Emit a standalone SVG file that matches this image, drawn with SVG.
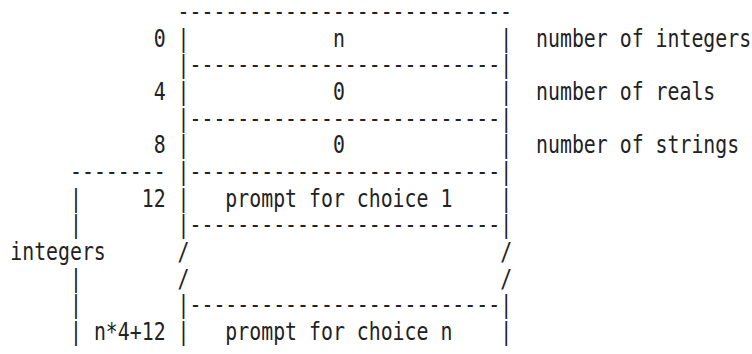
<svg xmlns="http://www.w3.org/2000/svg" width="752" height="354" viewBox="0 0 752 354">
<style>
  text { font-family: "DejaVu Sans Mono", "Liberation Mono", monospace; font-size: 24px; fill: #222; white-space: pre; }
</style>
<rect x="0" y="0" width="752" height="354" fill="#ffffff"/>
<g transform="translate(-1.7,0) scale(0.8271,1)">
  <g id="frame">
    <text x="216.74" y="20">----------------------------</text>
    <text x="216.74" y="46.67">|</text><text x="606.86" y="46.67">|</text>
    <text x="216.74" y="73.33">|</text><text x="231.18" y="73.33">--------------------------</text><text x="606.86" y="73.33">|</text>
    <text x="216.74" y="100">|</text><text x="606.86" y="100">|</text>
    <text x="216.74" y="126.67">|</text><text x="231.18" y="126.67">--------------------------</text><text x="606.86" y="126.67">|</text>
    <text x="216.74" y="153.33">|</text><text x="606.86" y="153.33">|</text>
    <text x="216.74" y="180">|</text><text x="231.18" y="180">--------------------------</text><text x="606.86" y="180">|</text>
    <text x="216.74" y="206.67">|</text><text x="606.86" y="206.67">|</text>
    <text x="216.74" y="233.33">|</text><text x="231.18" y="233.33">--------------------------</text><text x="606.86" y="233.33">|</text>
    <text x="216.74" y="260">/</text><text x="606.86" y="260">/</text>
    <text x="216.74" y="286.67">/</text><text x="606.86" y="286.67">/</text>
    <text x="216.74" y="313.33">|</text><text x="231.18" y="313.33">--------------------------</text><text x="606.86" y="313.33">|</text>
    <text x="216.74" y="340">|</text><text x="606.86" y="340">|</text>
  </g>
  <g id="cell-integers-count">
    <text x="187.84" y="46.67">0</text>
    <text x="404.57" y="46.67">n</text>
    <text x="650.21" y="46.67">number of integers</text>
  </g>
  <g id="cell-reals-count">
    <text x="187.84" y="100">4</text>
    <text x="404.57" y="100">0</text>
    <text x="650.21" y="100">number of reals</text>
  </g>
  <g id="cell-strings-count">
    <text x="187.84" y="153.33">8</text>
    <text x="404.57" y="153.33">0</text>
    <text x="650.21" y="153.33">number of strings</text>
  </g>
  <g id="cell-choice-1">
    <text x="173.39" y="206.67">12</text>
    <text x="274.53" y="206.67">prompt for choice 1</text>
  </g>
  <g id="cell-choice-n">
    <text x="115.59" y="340">n*4+12</text>
    <text x="274.53" y="340">prompt for choice n</text>
  </g>
  <g id="connectors">
    <text x="86.69" y="180">--------</text>
    <text x="86.69" y="206.67">|</text>
    <text x="86.69" y="233.33">|</text>
    <text x="14.449" y="260">integers</text>
    <text x="86.69" y="286.67">|</text>
    <text x="86.69" y="313.33">|</text>
    <text x="86.69" y="340">|</text>
  </g>
</g>
</svg>
